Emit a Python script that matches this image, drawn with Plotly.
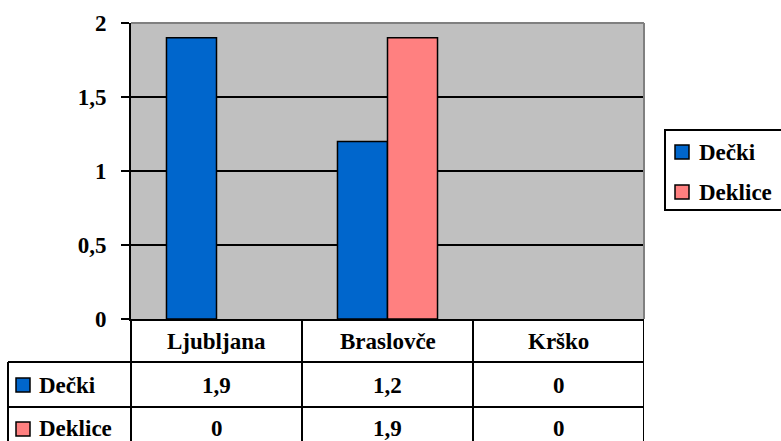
import plotly.graph_objects as go

categories = ["Ljubljana", "Braslovče", "Krško"]
series_names = ["Dečki", "Deklice"]
decki = [1.9, 1.2, 0]
deklice = [0, 1.9, 0]
series_values = [decki, deklice]
series_colors = ["#0066CC", "#FF8080"]
y_tickvals = [0, 0.5, 1, 1.5, 2]
y_ticktext = ["0", "0,5", "1", "1,5", "2"]

FONT = dict(family="Liberation Serif", size=23, weight="bold")

W, H = 781, 441
ML, MR, MT, MB = 131, 137, 23, 122
PW = W - ML - MR
PH = H - MT - MB


def px_x(x):
    return (x - ML) / PW


def px_y(y):
    return (MT + PH - y) / PH


fig = go.Figure()
for i, (name, vals, col) in enumerate(zip(series_names, series_values, series_colors)):
    fig.add_trace(go.Bar(
        x=categories, y=vals, name=name, showlegend=False,
        marker=dict(color=col, line=dict(color="black", width=[1.5 if v else 0 for v in vals])),
    ))

shapes = []
shapes.append(dict(type="line", xref="paper", yref="paper", x0=0, x1=1, y0=1, y1=1,
                   line=dict(color="#808080", width=2)))
shapes.append(dict(type="line", xref="paper", yref="paper", x0=1, x1=1, y0=0, y1=1,
                   line=dict(color="#808080", width=2)))

# data table
y_head_bot = px_y(362)
y_row1_bot = px_y(407)
y_tab_bot = px_y(460)
x_tab_left = px_x(8)
lw = 2
shapes.append(dict(type="line", xref="paper", yref="paper", x0=0, x1=0, y0=0, y1=y_tab_bot,
                   line=dict(color="black", width=lw)))
for k in range(len(categories)):
    shapes.append(dict(type="line", xref="x", yref="paper", x0=k + 0.5, x1=k + 0.5,
                       y0=0, y1=y_tab_bot, line=dict(color="black", width=lw)))
shapes.append(dict(type="line", xref="paper", yref="paper", x0=x_tab_left, x1=x_tab_left,
                   y0=y_head_bot, y1=y_tab_bot, line=dict(color="black", width=lw)))
for yy in (y_head_bot, y_row1_bot):
    shapes.append(dict(type="line", xref="paper", yref="paper", x0=x_tab_left, x1=1,
                       y0=yy, y1=yy, line=dict(color="black", width=lw)))

annotations = []
head_y = px_y(341)
row_ys = [px_y(385), px_y(429)]
for c in categories:
    annotations.append(dict(x=c, y=head_y, xref="x", yref="paper", text=c, showarrow=False,
                            font=FONT, xanchor="center", yanchor="middle"))
for r, (name, vals, col) in enumerate(zip(series_names, series_values, series_colors)):
    yc = row_ys[r]
    annotations.append(dict(x=px_x(37), y=yc, xref="paper", yref="paper", text=name,
                            showarrow=False, font=FONT, xanchor="left", yanchor="middle"))
    shapes.append(dict(type="rect", xref="paper", yref="paper",
                       x0=px_x(16), x1=px_x(30),
                       y0=yc + 7 / PH, y1=yc - 7 / PH,
                       fillcolor=col, line=dict(color="black", width=1.5)))
    for c, v in zip(categories, vals):
        annotations.append(dict(x=c, y=yc, xref="x", yref="paper",
                                text=str(v).replace(".", ","), showarrow=False, font=FONT,
                                xanchor="center", yanchor="middle"))

# legend (drawn from the series lists)
shapes.append(dict(type="rect", xref="paper", yref="paper",
                   x0=px_x(665), x1=px_x(800), y0=px_y(130), y1=px_y(210),
                   fillcolor="white", line=dict(color="black", width=2)))
leg_ys = [152, 192]
for name, col, ly in zip(series_names, series_colors, leg_ys):
    shapes.append(dict(type="rect", xref="paper", yref="paper",
                       x0=px_x(675), x1=px_x(689), y0=px_y(ly - 7), y1=px_y(ly + 7),
                       fillcolor=col, line=dict(color="black", width=1.5)))
    annotations.append(dict(x=px_x(697), y=px_y(ly), xref="paper", yref="paper", text=name,
                            showarrow=False, font=FONT, xanchor="left", yanchor="middle"))

fig.update_layout(
    width=W, height=H, autosize=False,
    margin=dict(l=ML, r=MR, t=MT, b=MB, pad=0),
    paper_bgcolor="white", plot_bgcolor="#C0C0C0",
    barmode="group", bargap=0.415, bargroupgap=0,
    font=dict(family="Liberation Serif", size=23, color="black", weight="bold"),
    showlegend=False,
    xaxis=dict(range=[-0.5, 2.5], showticklabels=False, ticks="", showgrid=False,
               showline=True, linecolor="black", linewidth=2, zeroline=False),
    yaxis=dict(range=[0, 2], tickvals=y_tickvals, ticktext=y_ticktext,
               showgrid=True, gridcolor="black", gridwidth=1.5,
               showline=True, linecolor="black", linewidth=2,
               ticks="outside", ticklen=8, tickcolor="black", tickwidth=2,
               ticklabelstandoff=10, zeroline=False,
               tickfont=dict(family="Liberation Serif", size=23, color="black", weight="bold")),
    shapes=shapes, annotations=annotations,
)

fig.write_html("out.html")
